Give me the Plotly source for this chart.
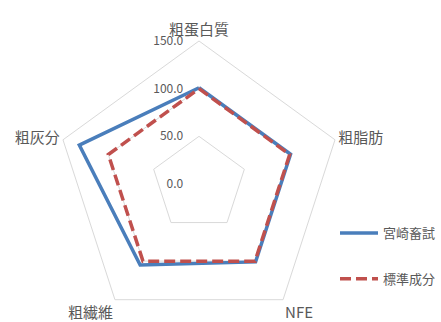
import plotly.graph_objects as go

categories = ["粗蛋白質", "粗脂肪", "NFE", "粗繊維", "粗灰分"]
miyazaki = [101, 101, 101, 105, 132]
standard = [100, 100, 100, 100, 100]
series_names = ["宮崎畜試", "標準成分"]
radial_ticks = [0, 50, 100, 150]
radial_ticktext = ["0.0", "50.0", "100.0", "150.0"]

W, H = 441, 332
R = 143
cx, cy = 199, 184

pad = "\u00a0" * 5

fig = go.Figure()
fig.add_trace(go.Scatterpolar(
    r=miyazaki + [miyazaki[0]], theta=categories + [categories[0]],
    mode="lines", name=series_names[0], legendgroup="a",
    line=dict(color="#4a7ebb", width=3.5)))
fig.add_trace(go.Scatterpolar(
    r=standard + [standard[0]], theta=categories + [categories[0]],
    mode="lines", name=series_names[1], legendgroup="b",
    line=dict(color="#c0504d", width=3.5, dash="11px,5px")))

font = "Noto Sans CJK JP, sans-serif"
fig.update_layout(
    width=W, height=H,
    margin=dict(l=0, r=0, t=0, b=0),
    paper_bgcolor="white",
    font=dict(family=font, color="#595959", size=13),
    polar=dict(
        domain=dict(x=[(cx - R) / W, (cx + R) / W], y=[(H - cy - R) / H, (H - cy + R) / H]),
        gridshape="linear",
        bgcolor="white",
        radialaxis=dict(range=[0, 150], tickvals=radial_ticks,
                        ticktext=[t + pad for t in radial_ticktext],
                        showline=False, gridcolor="#d9d9d9", gridwidth=1, ticks="",
                        angle=90, tickangle=90, side="counterclockwise",
                        tickfont=dict(size=12, color="#595959")),
        angularaxis=dict(rotation=90, direction="clockwise", showgrid=False,
                         showline=True, linecolor="#d9d9d9", linewidth=1, ticks="",
                         tickfont=dict(size=15, color="#595959")),
    ),
    legend=dict(x=1, y=1 - 218 / H, xanchor="right", yanchor="top",
                tracegroupgap=26, font=dict(size=13), itemwidth=38,
                bgcolor="rgba(0,0,0,0)"),
)

fig.write_html("out.html", post_script="document.body.style.overflow='hidden';document.documentElement.style.overflow='hidden';")
